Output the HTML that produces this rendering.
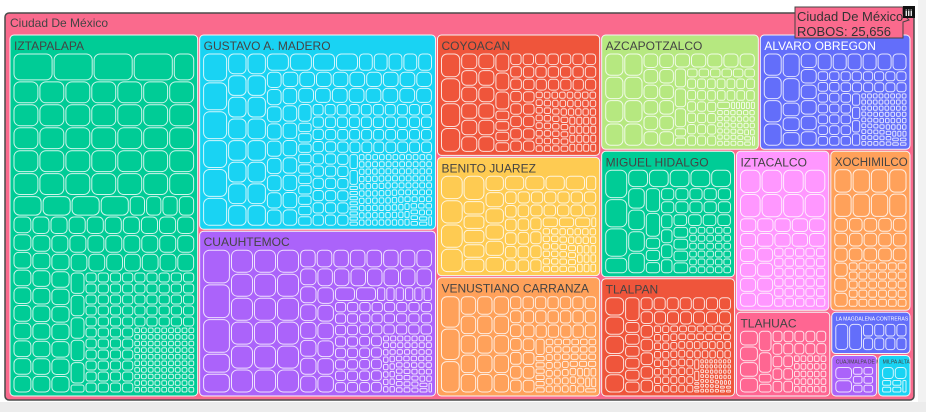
<!DOCTYPE html>
<html><head><meta charset="utf-8">
<style>
html,body{margin:0;padding:0;background:#fff;width:926px;height:412px;overflow:hidden;font-family:"Liberation Sans",Arial,sans-serif;}
svg{display:block}
</style></head>
<body>
<svg id="chart" width="926" height="412">
  <rect x="0" y="402" width="926" height="10" fill="#ececec"/>
  <rect x="918" y="0" width="8" height="402" fill="#f2f2f2"/>
  <rect x="5" y="13" width="909" height="387" rx="4" fill="#fa6a8d" stroke="#4a4a4a" stroke-width="1.5"/>
  <text x="10" y="27" font-size="12" fill="#444">Ciudad De México</text>
  <g id="districts"></g>
  <g>
    <path d="M795,7 H903 V14 L909,20 L903,22 V38 H795 Z" fill="#fa6a8d" stroke="#444" stroke-width="1"/>
    <text x="797" y="21" font-size="13" fill="#333">Ciudad De México</text>
    <text x="797" y="36" font-size="13" fill="#333">ROBOS: 25,656</text>
  </g>
  <rect x="903" y="6" width="12" height="12" fill="#111"/>
  <text x="905" y="16" font-size="9" fill="#fff" font-weight="bold">iii</text>
</svg>
<script>
const districtNames = ["IZTAPALAPA","GUSTAVO A. MADERO","CUAUHTEMOC","COYOACAN","BENITO JUAREZ","VENUSTIANO CARRANZA","AZCAPOTZALCO","ALVARO OBREGON","MIGUEL HIDALGO","TLALPAN","IZTACALCO","XOCHIMILCO","TLAHUAC","LA MAGDALENA CONTRERAS","CUAJIMALPA DE MORELOS","MILPA ALTA"];
const districtValues = [5394,3657,3108,1574,1548,1548,1446,1382,1346,1260,1190,1024,640,272,156,111];
const districtColors = ["#00cc96","#19d3f3","#ab63fa","#ef553b","#fecb52","#ffa15a","#b6e880","#636efa","#00cc96","#ef553b","#ff97ff","#ffa15a","#ff6692","#636efa","#ab63fa","#19d3f3"];
// leaf groups per district: [value, count]
const leafGroups = [
 [[150,4],[80,40],[45,60],[18,70],[6,90]],
 [[120,6],[70,20],[45,40],[25,70],[8,120]],
 [[140,3],[80,20],[45,30],[20,50],[7,60]],
 [[80,4],[45,15],[25,35],[10,60]],
 [[70,5],[40,15],[22,30],[8,40]],
 [[80,3],[40,15],[22,30],[8,50]],
 [[55,8],[30,20],[14,35],[5,40]],
 [[50,6],[30,15],[14,35],[4,70]],
 [[80,3],[45,12],[22,25],[8,30]],
 [[50,6],[24,25],[9,60],[3,50]],
 [[45,8],[22,18],[9,30]],
 [[45,8],[22,18],[9,30]],
 [[35,6],[16,18],[6,25]],
 [[20,2],[8,8]],
 [[15,2],[6,6]],
 [[12,2],[5,5]]
];

function worst(row, s){
  let sum=0,mx=-Infinity,mn=Infinity;
  for(const a of row){sum+=a;mx=Math.max(mx,a);mn=Math.min(mn,a);}
  return Math.max(s*s*mx/(sum*sum),(sum*sum)/(s*s*mn));
}
function squarify(vals,x,y,w,h){
  const total=vals.reduce((a,b)=>a+b,0);
  const sc=w*h/total;
  const areas=vals.map(v=>v*sc);
  const out=[];let r={x,y,w,h};let i=0;
  while(i<areas.length){
    const s=Math.min(r.w,r.h);
    const row=[areas[i]];i++;
    while(i<areas.length && worst(row.concat([areas[i]]),s)<=worst(row,s)){row.push(areas[i]);i++;}
    const S=row.reduce((a,b)=>a+b,0);
    if(r.w>=r.h){
      const cw=S/r.h;let yy=r.y;
      for(const a of row){const hh=a/cw;out.push({x:r.x,y:yy,w:cw,h:hh});yy+=hh;}
      r.x+=cw;r.w-=cw;
    }else{
      const rh=S/r.w;let xx=r.x;
      for(const a of row){const ww=a/rh;out.push({x:xx,y:r.y,w:ww,h:rh});xx+=ww;}
      r.y+=rh;r.h-=rh;
    }
  }
  return out;
}
const NS="http://www.w3.org/2000/svg";
const g=document.getElementById('districts');
const dRects=squarify(districtValues,9,34,902,363);
dRects.forEach((d,k)=>{
  const x=d.x+1,y=d.y+1,w=d.w-2,h=d.h-2;
  const grp=document.createElementNS(NS,'g');
  
  
  const rc=document.createElementNS(NS,'rect');
  rc.setAttribute('x',x);rc.setAttribute('y',y);rc.setAttribute('width',w);rc.setAttribute('height',h);
  rc.setAttribute('rx',4);rc.setAttribute('fill',districtColors[k]);
  rc.setAttribute('stroke','#f4f4f4');rc.setAttribute('stroke-width','1');
  
  
  grp.appendChild(rc);
  const fs=Math.min(12,Math.max(5,(w-8)/(districtNames[k].length*0.62)));
  const t=document.createElementNS(NS,'text');
  t.setAttribute('x',x+4);t.setAttribute('y',y+fs+3);
  t.setAttribute('font-size',fs.toFixed(1));
  t.setAttribute('fill',k===7||k===13?'#fff':'#444');
  t.textContent=districtNames[k];
  
  
  grp.appendChild(t);
  const vals=[];
  leafGroups[k].forEach(([v,c])=>{for(let j=0;j<c;j++)vals.push(v);});
  const hd=fs+6;
  if(h-hd-3>4){
    const leaves=squarify(vals,x+3,y+hd,w-6,h-hd-3);
    leaves.forEach(l=>{
      const lw=l.w-2,lh=l.h-2;if(lw<1||lh<1)return;
      const lr=document.createElementNS(NS,'rect');
      lr.setAttribute('x',(l.x+1).toFixed(1));lr.setAttribute('y',(l.y+1).toFixed(1));
      lr.setAttribute('width',lw.toFixed(1));lr.setAttribute('height',lh.toFixed(1));
      lr.setAttribute('rx',Math.min(6,Math.min(lw,lh)*0.3).toFixed(1));
      lr.setAttribute('fill',districtColors[k]);
      lr.setAttribute('stroke','rgba(255,255,255,0.8)');lr.setAttribute('stroke-width','1');
      
      
      grp.appendChild(lr);
    });
  }
  g.appendChild(grp);
});
</script>
</body></html>
